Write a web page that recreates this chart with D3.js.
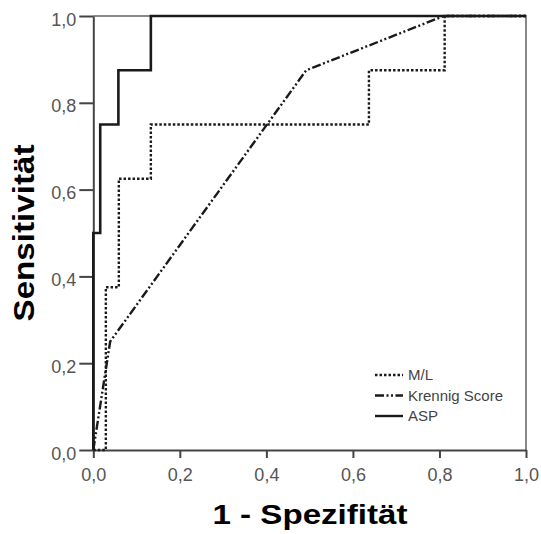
<!DOCTYPE html>
<html>
<head>
<meta charset="utf-8">
<script src="https://cdn.jsdelivr.net/npm/d3@7"></script>
<style>
  body { margin: 0; background: #fff; }
  svg { display: block; font-family: "Liberation Sans", Arial, sans-serif; }
</style>
</head>
<body>
<div id="chart"></div>
<script>
// ROC curves: [1 - specificity, sensitivity]
const mlPoints = [[0, 0], [0.029, 0], [0.029, 0.375], [0.059, 0.375], [0.059, 0.625],
  [0.133, 0.625], [0.133, 0.75], [0.637, 0.75], [0.637, 0.875], [0.812, 0.875], [0.812, 1], [1, 1]];
const krennigPoints = [[0, 0], [0.039, 0.25], [0.492, 0.875], [0.81, 1], [1, 1]];
const aspPoints = [[0, 0], [0, 0.5], [0.016, 0.5], [0.016, 0.75], [0.058, 0.75],
  [0.058, 0.875], [0.133, 0.875], [0.133, 1], [1, 1]];

const ticks = [0, 0.2, 0.4, 0.6, 0.8, 1.0];
const seriesNames = ["M/L", "Krennig Score", "ASP"];
const dashes = ["2.5,2", "9,2.5,2,2.5,2,2.5", null];

const width = 541, height = 534;
const margin = { top: 16, right: 15, bottom: 84, left: 93.3 };

const svg = d3.select("#chart").append("svg")
  .attr("width", width)
  .attr("height", height);

const x = d3.scaleLinear().domain([0, 1]).range([margin.left, width - margin.right]);
const y = d3.scaleLinear().domain([0, 1]).range([height - margin.bottom, margin.top]);

const fmt = d => d3.format(".1f")(d).replace(".", ",");

// frame (top + right)
svg.append("path")
  .attr("d", `M${x(0)},${y(1)}H${x(1)}V${y(0)}`)
  .attr("fill", "none")
  .attr("stroke", "#888")
  .attr("stroke-width", 2);

// axes
const xAxis = svg.append("g")
  .attr("transform", `translate(0,${y(0)})`)
  .call(d3.axisBottom(x).tickValues(ticks).tickFormat(fmt).tickSize(8).tickSizeOuter(0));
const yAxis = svg.append("g")
  .attr("transform", `translate(${x(0)},0)`)
  .call(d3.axisLeft(y).tickValues(ticks).tickFormat(fmt).tickSize(14).tickSizeOuter(0));

[xAxis, yAxis].forEach(g => {
  g.select(".domain").attr("stroke", "#444").attr("stroke-width", 2);
  g.selectAll(".tick line").attr("stroke", "#444").attr("stroke-width", 2);
  g.selectAll(".tick text")
    .attr("fill", "#555")
    .style("font-size", "18px")
    .style("font-family", "'Liberation Sans', Arial, sans-serif");
});
xAxis.selectAll(".tick text").attr("dy", "1.1em");
yAxis.selectAll(".tick text").attr("dx", "0").attr("dy", "0.5em");

// curves
const line = d3.line().x(d => x(d[0])).y(d => y(d[1]));
[mlPoints, krennigPoints, aspPoints].forEach((pts, i) => {
  svg.append("path")
    .datum(pts)
    .attr("d", line)
    .attr("fill", "none")
    .attr("stroke", "#1a1a1a")
    .attr("stroke-width", i === 2 ? 2.6 : 2.4)
    .attr("stroke-dasharray", dashes[i]);
});

// legend
const legend = svg.append("g").attr("transform", "translate(375,375)");
seriesNames.forEach((name, i) => {
  const row = legend.append("g").attr("transform", `translate(0,${i * 20.5})`);
  row.append("line")
    .attr("x1", 0).attr("x2", 28)
    .attr("stroke", "#1a1a1a")
    .attr("stroke-width", 2.4)
    .attr("stroke-dasharray", dashes[i]);
  row.append("text")
    .attr("x", 33).attr("dy", "0.36em")
    .attr("fill", "#444")
    .style("font-size", "15px")
    .text(name);
});

// axis titles
svg.append("text")
  .attr("x", 310).attr("y", 524)
  .attr("text-anchor", "middle")
  .attr("textLength", 195)
  .attr("lengthAdjust", "spacingAndGlyphs")
  .style("font-size", "27px")
  .style("font-weight", "bold")
  .text("1 - Spezifität");

svg.append("text")
  .attr("transform", "translate(34,233) rotate(-90)")
  .attr("text-anchor", "middle")
  .attr("textLength", 177)
  .attr("lengthAdjust", "spacingAndGlyphs")
  .style("font-size", "29px")
  .style("font-weight", "bold")
  .text("Sensitivität");
</script>
</body>
</html>
